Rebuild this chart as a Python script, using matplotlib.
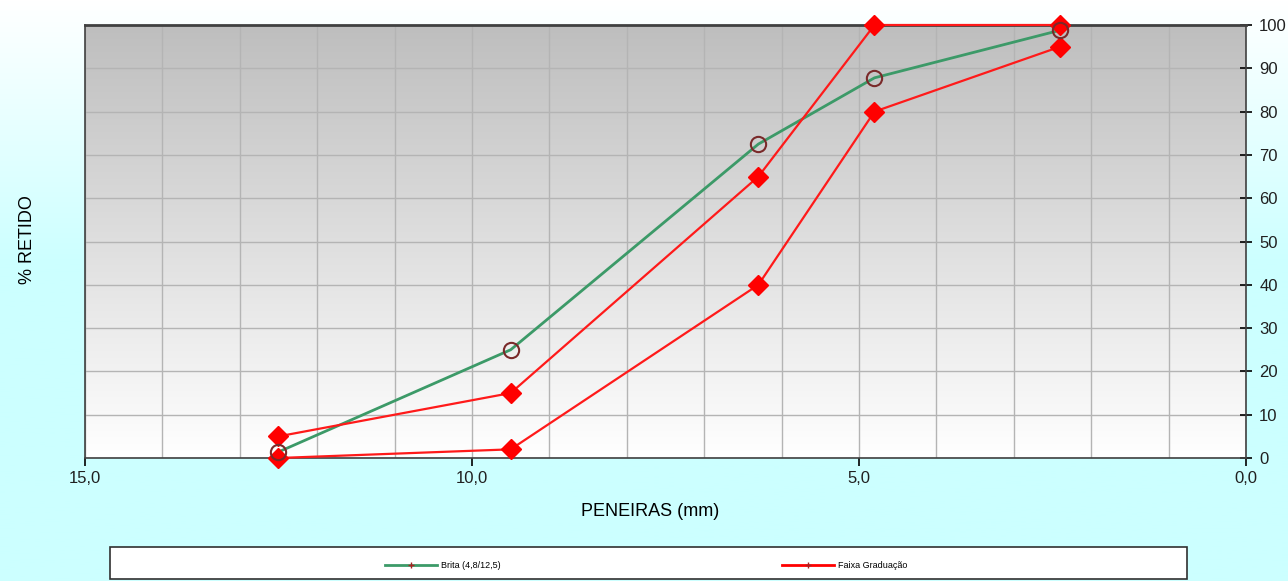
import numpy as np
import matplotlib.pyplot as plt
from matplotlib.lines import Line2D
from matplotlib.patches import Rectangle

plt.rcParams['font.family'] = ['Liberation Sans', 'DejaVu Sans']

# sieve openings (mm) and % retained
peneiras = [12.5, 9.5, 6.3, 4.8, 2.4]
brita = [1.4, 25.0, 72.5, 87.8, 98.8]
faixa_sup = [5, 15, 65, 100, 100]
faixa_inf = [0, 2, 40, 80, 95]

fig = plt.figure(figsize=(12.88, 5.81), dpi=100)

# background: white at top fading to light cyan
bg = fig.add_axes([0, 0, 1, 1], zorder=-10)
g = np.linspace(0, 1, 256).reshape(-1, 1)
bg_rgb = np.clip(np.dstack([1 - 0.2 * np.clip(g * 2.2, 0, 1), np.ones_like(g), np.ones_like(g)]), 0, 1)
bg.imshow(bg_rgb, aspect='auto', extent=[0, 1, 0, 1], origin='upper')
bg.set_xlim(0, 1)
bg.set_ylim(0, 1)
bg.axis('off')

W, H = 1288, 581
ax = fig.add_axes([85 / W, 1 - 458 / H, (1246 - 85) / W, (458 - 25) / H])

# plot area gradient: gray at top to white at bottom
gv = np.linspace(0.745, 1.0, 256).reshape(-1, 1)
ax.imshow(np.dstack([gv, gv, gv]), aspect='auto', extent=[15, 0, 0, 100],
          origin='upper', zorder=0)

ax.set_xlim(15, 0)
ax.set_ylim(0, 100)
ax.set_xticks(np.arange(0, 16, 1), minor=True)
ax.set_xticks([15, 10, 5, 0])
ax.set_xticklabels(['15,0', '10,0', '5,0', '0,0'])
ax.set_yticks(np.arange(0, 101, 10))
ax.grid(True, which='both', axis='x', color='#b4b4b4', lw=1, zorder=1)
ax.grid(True, which='major', axis='y', color='#b4b4b4', lw=1, zorder=1)
ax.yaxis.tick_right()
ax.tick_params(axis='y', direction='inout', length=9, width=1.2, labelsize=12,
               pad=5, labelcolor='#202020')
ax.tick_params(axis='x', which='major', direction='out', length=6, width=1.2,
               labelsize=12, labelcolor='#202020')
ax.tick_params(axis='x', which='minor', length=0)
for s in ax.spines.values():
    s.set_color('#404040')
    s.set_linewidth(1.2)
ax.spines['top'].set_linewidth(2)

ax.plot(peneiras, brita, color='#3c9a68', lw=2, zorder=3)
ax.plot(peneiras, brita, ls='none', marker='o', ms=11, mfc='none',
        mec='#7a2a2a', mew=1.5, zorder=5, clip_on=False)
ax.plot(peneiras, faixa_sup, color='#ff1a1a', lw=1.6, marker='D', ms=10,
        mfc='red', mec='red', zorder=4, clip_on=False)
ax.plot(peneiras, faixa_inf, color='#ff1a1a', lw=1.6, marker='D', ms=10,
        mfc='red', mec='red', zorder=4, clip_on=False)

fig.text(28 / W, 1 - 240 / H, '% RETIDO', rotation=90, ha='center', va='center', fontsize=13)
fig.text(650 / W, 1 - 512 / H, 'PENEIRAS (mm)', ha='center', va='center', fontsize=13)

# legend box
fig.patches.append(Rectangle((110 / W, 1 - 579 / H), (1187 - 110) / W, 32 / H,
                             transform=fig.transFigure, facecolor='white',
                             edgecolor='#303030', lw=1.2))
for x0, col, txt in [(385, '#3c9a68', 'Brita (4,8/12,5)'), (782, 'red', 'Faixa Graduação')]:
    yl = 1 - 565 / H
    fig.lines.append(Line2D([x0 / W, (x0 + 52) / W], [yl, yl], transform=fig.transFigure,
                            color=col, lw=2))
    fig.lines.append(Line2D([(x0 + 26) / W], [yl], transform=fig.transFigure,
                            marker='+', ms=4, color='#aa2020', lw=0))
    fig.text((x0 + 56) / W, yl, txt, fontsize=6.5, va='center', ha='left')

fig.savefig('out.png', dpi=100)
